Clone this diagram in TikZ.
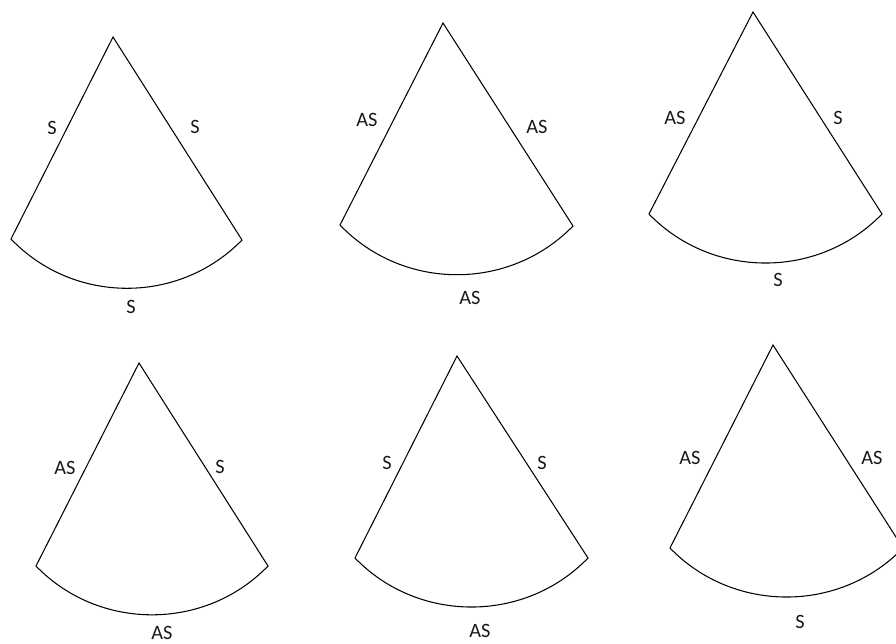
\documentclass[tikz,border=0pt]{standalone}
\usepackage{fontspec}
\setmainfont{Carlito}
\begin{document}
\begin{tikzpicture}[x=0.25mm, y=-0.25mm, font=\fontsize{14.5}{16}\selectfont,
  fan/.style={black, line width=0.75pt, line join=miter},
  tag/.style={text=black!90, inner sep=0pt}]
\useasboundingbox (0,0) rectangle (896,644);
% top row, left: S S S
\coordinate (a1) at (113,37);
\coordinate (l1) at (11,239);
\coordinate (r1) at (242,240);
\draw[fan] (a1) -- (r1) to[bend left=46] (l1) -- cycle;
\node[tag] (t1l) at (52,128) {S};
\node[tag] (t1r) at (195,127) {S};
\node[tag] (t1b) at (131,307) {S};
% top row, middle: AS AS AS
\coordinate (a2) at (443,23);
\coordinate (l2) at (340,225);
\coordinate (r2) at (573,226);
\draw[fan] (a2) -- (r2) to[bend left=46] (l2) -- cycle;
\node[tag] (t2l) at (367,120) {AS};
\node[tag] (t2r) at (537,127) {AS};
\node[tag] (t2b) at (470,298) {AS};
% top row, right: AS S S
\coordinate (a3) at (753,12);
\coordinate (l3) at (649,214);
\coordinate (r3) at (882,214);
\draw[fan] (a3) -- (r3) to[bend left=46] (l3) -- cycle;
\node[tag] (t3l) at (675,118) {AS};
\node[tag] (t3r) at (838,118) {S};
\node[tag] (t3b) at (778,280) {S};
% bottom row, left: AS S AS
\coordinate (a4) at (139,363);
\coordinate (l4) at (36,566);
\coordinate (r4) at (268,566);
\draw[fan] (a4) -- (r4) to[bend left=46] (l4) -- cycle;
\node[tag] (t4l) at (65,468) {AS};
\node[tag] (t4r) at (220,467) {S};
\node[tag] (t4b) at (162,633) {AS};
% bottom row, middle: S S AS
\coordinate (a5) at (457,356);
\coordinate (l5) at (355,558);
\coordinate (r5) at (588,558);
\draw[fan] (a5) -- (r5) to[bend left=46] (l5) -- cycle;
\node[tag] (t5l) at (387,463) {S};
\node[tag] (t5r) at (542,463) {S};
\node[tag] (t5b) at (480,631) {AS};
% bottom row, right: AS AS S (runs off the edge)
\coordinate (a6) at (773,345);
\coordinate (l6) at (670,548);
\coordinate (r6) at (903,548);
\draw[fan] (a6) -- (r6) to[bend left=46] (l6) -- cycle;
\node[tag] (t6l) at (690,458) {AS};
\node[tag] (t6r) at (872,458) {AS};
\node[tag] (t6b) at (800,622) {S};
\end{tikzpicture}
\end{document}
